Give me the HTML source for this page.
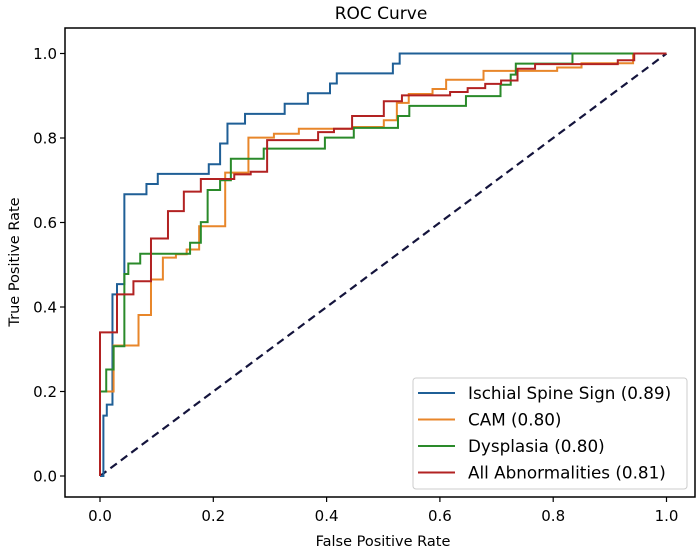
<!DOCTYPE html>
<html><head><meta charset="utf-8"><style>
body{margin:0;background:#fff;}
svg{display:block;font-family:"DejaVu Sans","Liberation Sans",sans-serif;}
</style></head><body>
<svg id="chart" width="700" height="556">
<rect x="0" y="0" width="700" height="556" fill="#fff"/>
<g id="marks"></g>
<rect x="65" y="28" width="630" height="469" fill="none" stroke="#000" stroke-width="1.5"/>
<g id="ticks"></g>
<text x="381" y="19" text-anchor="middle" font-size="17">ROC Curve</text>
<text x="383" y="546" text-anchor="middle" font-size="14.5">False Positive Rate</text>
<text x="0" y="0" transform="translate(19,262) rotate(-90)" text-anchor="middle" font-size="14.5">True Positive Rate</text>
<g id="legend"></g>
</svg>
<script>
const ticks=[0,0.2,0.4,0.6,0.8,1.0];
const tickLabels=["0.0","0.2","0.4","0.6","0.8","1.0"];
const seriesNames=["Ischial Spine Sign (0.89)","CAM (0.80)","Dysplasia (0.80)","All Abnormalities (0.81)"];
const seriesColors=["#1f5f96","#e8862a","#2a8a2a","#b22222"];
const isssFpr=[0,0.006,0.012,0.022,0.03,0.043,0.082,0.102,0.192,0.212,0.225,0.256,0.326,0.367,0.406,0.418,0.517,0.529,1];
const isssTpr=[0,0.143,0.169,0.43,0.454,0.667,0.691,0.715,0.738,0.787,0.834,0.857,0.881,0.906,0.929,0.953,0.976,1.0,1.0];
const camFpr=[0,0,0.024,0.068,0.09,0.111,0.134,0.153,0.175,0.221,0.262,0.307,0.351,0.447,0.501,0.524,0.545,0.587,0.611,0.677,0.807,0.85,0.941,1];
const camTpr=[0,0.2,0.309,0.381,0.465,0.517,0.525,0.536,0.591,0.718,0.801,0.81,0.822,0.826,0.842,0.883,0.904,0.916,0.938,0.959,0.967,0.977,1.0,1.0];
const dysFpr=[0,0,0.011,0.024,0.043,0.05,0.071,0.159,0.178,0.19,0.212,0.231,0.289,0.397,0.448,0.526,0.546,0.646,0.707,0.725,0.734,0.834,1];
const dysTpr=[0,0.2,0.252,0.307,0.478,0.503,0.526,0.552,0.601,0.677,0.7,0.751,0.775,0.801,0.824,0.852,0.876,0.899,0.926,0.95,0.976,1.0,1.0];
const allFpr=[0,0,0.03,0.059,0.09,0.12,0.148,0.178,0.237,0.266,0.295,0.385,0.413,0.445,0.501,0.533,0.618,0.649,0.68,0.708,0.737,0.768,0.914,0.943,1];
const allTpr=[0,0.34,0.43,0.461,0.562,0.627,0.673,0.703,0.714,0.72,0.795,0.814,0.822,0.852,0.887,0.901,0.909,0.918,0.928,0.936,0.964,0.975,0.984,1.0,1.0];
const NS="http://www.w3.org/2000/svg";
const sx=v=>100+v*566.5, sy=v=>476-v*422.5;
const marks=document.getElementById('marks'), tg=document.getElementById('ticks'), lg=document.getElementById('legend');
function mk(t,a,p){const e=document.createElementNS(NS,t);for(const k in a)e.setAttribute(k,a[k]);p.appendChild(e);return e;}
ticks.forEach((t,i)=>{
 const a=mk('line',{x1:sx(t),x2:sx(t),y1:497,y2:502,stroke:'#000','stroke-width':1.2},tg);
 
 
 const b=mk('text',{x:sx(t),y:521,'text-anchor':'middle','font-size':15},tg);b.textContent=tickLabels[i];
 
 
 const c=mk('line',{x1:60,x2:65,y1:sy(t),y2:sy(t),stroke:'#000','stroke-width':1.2},tg);
 
 
 const d=mk('text',{x:57,y:sy(t)+5.5,'text-anchor':'end','font-size':15},tg);d.textContent=tickLabels[i];
 
 
});
const diag=mk('line',{x1:sx(0),y1:sy(0),x2:sx(1),y2:sy(1),stroke:'#14143c','stroke-width':2.2,'stroke-dasharray':'8,5'},marks);


const series=[[isssFpr,isssTpr],[camFpr,camTpr],[dysFpr,dysTpr],[allFpr,allTpr]];
const snames=['ischial-spine-curve','cam-curve','dysplasia-curve','all-abnormalities-curve'];
series.forEach((s,i)=>{
 const [fx,ty]=s;let pts=[[sx(fx[0]),sy(ty[0])]];
 for(let j=1;j<fx.length;j++){pts.push([sx(fx[j]),sy(ty[j-1])]);pts.push([sx(fx[j]),sy(ty[j])]);}
 const p=mk('polyline',{points:pts.map(q=>q.join(',')).join(' '),fill:'none',stroke:seriesColors[i],'stroke-width':2},marks);
 
 
});
mk('rect',{x:413,y:378,width:274,height:111,rx:3,fill:'#fff','fill-opacity':0.85,stroke:'#ccc','stroke-width':1},lg);
seriesNames.forEach((n,i)=>{
 const y=393+i*26.5;
 const l=mk('line',{x1:418,x2:455,y1:y,y2:y,stroke:seriesColors[i],'stroke-width':2},lg);
 
 
 const t=mk('text',{x:468,y:y+6,'font-size':16.8},lg);t.textContent=n;
 
 
});
</script>
</body></html>
